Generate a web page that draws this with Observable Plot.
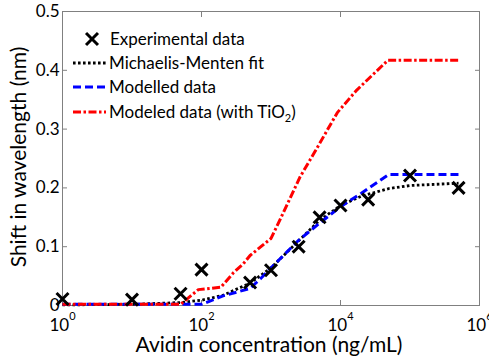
<!DOCTYPE html>
<html><head><meta charset="utf-8">
<script src="https://cdn.jsdelivr.net/npm/d3@7"></script>
<script src="https://cdn.jsdelivr.net/npm/@observablehq/plot@0.6"></script>
<style>
body{margin:0;background:#fff;}
#chart svg{font-family:Lato, "Open Sans", sans-serif;}
</style>
</head><body><div id="chart"></div>
<script>
// Experimental data
const expConc  = [1, 10, 50, 100, 500, 1000, 2500, 5000, 10000, 25000, 100000, 500000];
const expShift = [0.011, 0.010, 0.020, 0.061, 0.039, 0.060, 0.100, 0.150, 0.170, 0.180, 0.221, 0.200];
// Michaelis-Menten fit
const fitConc  = [1, 10, 50, 100, 200, 500, 1000, 2500, 5000, 10000, 20000, 50000, 100000, 500000];
const fitShift = [0.001, 0.002, 0.005, 0.009, 0.017, 0.038, 0.064, 0.110, 0.145, 0.170, 0.186, 0.199, 0.204, 0.208];
// Modelled data
const modelConc  = [1, 100, 150, 200, 500, 700, 1000, 2500, 5000, 10000, 20000, 50000, 500000];
const modelShift = [0.002, 0.002, 0.010, 0.016, 0.029, 0.045, 0.064, 0.111, 0.140, 0.168, 0.191, 0.223, 0.223];
// Modeled data (with TiO2)
const tioConc  = [1, 50, 90, 190, 290, 400, 500, 1000, 1400, 2600, 4400, 9000, 17000, 48000, 500000];
const tioShift = [0.002, 0.002, 0.027, 0.031, 0.056, 0.071, 0.085, 0.114, 0.150, 0.218, 0.264, 0.328, 0.366, 0.417, 0.417];

const xTicks = [1, 100, 10000, 1000000];
const yTicks = [0, 0.1, 0.2, 0.3, 0.4, 0.5];
const xLabel = "Avidin concentration (ng/mL)";
const yLabel = "Shift in wavelength (nm)";
const legendLabels = ["Experimental data", "Michaelis-Menten fit", "Modelled data", "Modeled data (with TiO", "2", ")"];

const zip = (xs, ys) => xs.map((x, i) => ({x, y: ys[i]}));
const expData = zip(expConc, expShift);
const fitData = zip(fitConc, fitShift);
const modelData = zip(modelConc, modelShift);
const tioData = zip(tioConc, tioShift);

const axisColor = "#808080";
const styles = [
  {stroke: "#000000", strokeWidth: 2.8, strokeDasharray: "2.6 2.4"},
  {stroke: "#0000ff", strokeWidth: 3, strokeDasharray: "8 4"},
  {stroke: "#ff0000", strokeWidth: 3, strokeDasharray: "8 2.5 2.5 2.5"}
];
const series = [fitData, modelData, tioData];

const plot = Plot.plot({
  width: 489, height: 361,
  marginLeft: 62, marginRight: 10, marginTop: 11, marginBottom: 56,
  style: {fontFamily: "Lato, 'Open Sans', sans-serif", fontSize: "17px", color: "#000", background: "#fff", overflow: "visible"},
  x: {type: "log", domain: [1, 1e6]},
  y: {domain: [0, 0.5]},
  marks: [
    Plot.frame({stroke: axisColor}),
    Plot.axisX({anchor: "bottom", ticks: xTicks, tickSize: -5, tickPadding: 18, label: null, stroke: axisColor, fill: "#000",
      tickFormat: d => "10^" + Math.round(Math.log10(d))}),
    Plot.axisX({anchor: "top", ticks: xTicks, tickSize: -5, label: null, stroke: axisColor, tickFormat: () => ""}),
    Plot.axisY({anchor: "left", ticks: yTicks, tickSize: -5, tickPadding: 8, label: null, stroke: axisColor, fill: "#000",
      tickFormat: d => d3.format("~g")(d)}),
    Plot.axisY({anchor: "right", ticks: yTicks, tickSize: -5, label: null, stroke: axisColor, tickFormat: () => ""}),
    ...series.map((data, i) => Plot.line(data, {x: "x", y: "y", ...styles[i], strokeLinecap: "butt", strokeLinejoin: "miter"})),
    Plot.dot(expData, {x: "x", y: "y", symbol: "times", r: 5.5, stroke: "#000", strokeWidth: 3})
  ]
});
document.getElementById("chart").append(plot);

const svg = d3.select(plot);

// superscript exponents on x tick labels
svg.selectAll('g[aria-label="x-axis tick label"] text').each(function() {
  const t = d3.select(this);
  const s = t.text();
  if (!s.includes("^")) return;
  const [base, exp] = s.split("^");
  t.text(null);
  t.append("tspan").text(base);
  t.append("tspan").attr("dy", "-11").attr("font-size", "11px").text(exp);
});

// axis titles
svg.append("text").attr("x", 269).attr("y", 352).attr("text-anchor", "middle")
  .attr("font-size", "21px").attr("fill", "#000").text(xLabel);
svg.append("text").attr("transform", "translate(26,157) rotate(-90)").attr("text-anchor", "middle")
  .attr("font-size", "21px").attr("fill", "#000").text(yLabel);

// legend
const lg = svg.append("g").attr("font-size", "17px").attr("fill", "#000").attr("text-anchor", "start");
const rows = [39, 63, 87, 112];
lg.append("path").attr("d", d3.symbol(d3.symbolTimes, Math.PI * 5.5 * 5.5)())
  .attr("transform", `translate(92,${rows[0]})`).attr("stroke", "#000").attr("stroke-width", 3).attr("fill", "none");
styles.forEach((s, i) => {
  lg.append("line").attr("x1", 73).attr("x2", 106).attr("y1", rows[i + 1]).attr("y2", rows[i + 1])
    .attr("stroke", s.stroke).attr("stroke-width", s.strokeWidth)
    .style("stroke-dasharray", s.strokeDasharray);
});
legendLabels.slice(0, 3).forEach((l, i) => {
  lg.append("text").attr("x", i === 0 ? 110 : 109).attr("y", rows[i] + 6).text(l);
});
const t4 = lg.append("text").attr("x", 109).attr("y", rows[3] + 6);
t4.append("tspan").text(legendLabels[3]);
t4.append("tspan").attr("font-size", "11px").attr("dy", 4).text(legendLabels[4]);
t4.append("tspan").attr("dy", -4).text(legendLabels[5]);
</script>
</body></html>
